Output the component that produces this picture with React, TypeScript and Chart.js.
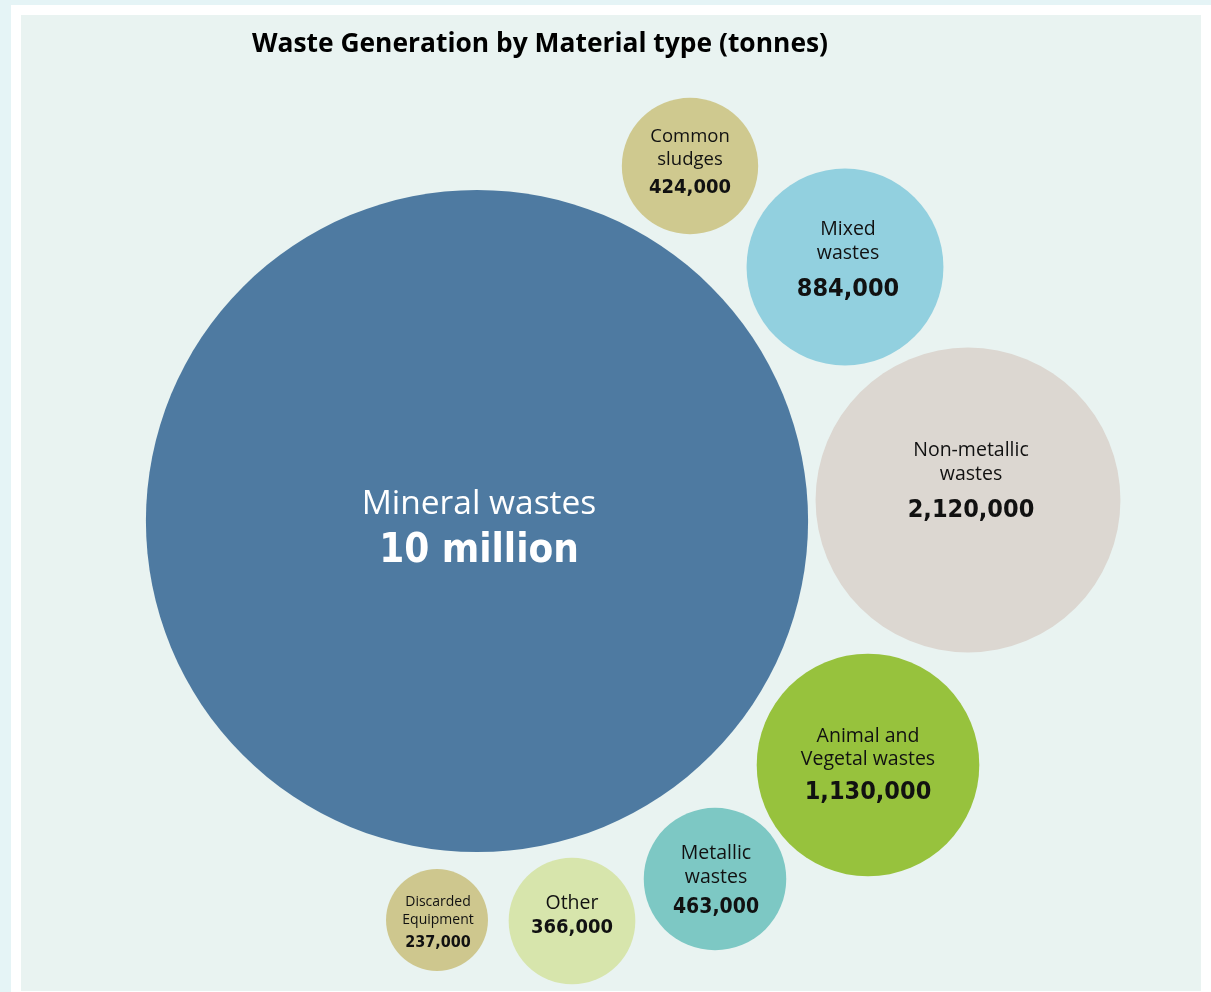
import React, { useEffect, useRef } from "react";
import { Chart, registerables } from "chart.js";

Chart.register(...registerables);

// ---- data ----
const categories: string[][] = [
  ["Mineral wastes"],
  ["Common", "sludges"],
  ["Mixed", "wastes"],
  ["Non-metallic", "wastes"],
  ["Animal and", "Vegetal wastes"],
  ["Metallic", "wastes"],
  ["Other"],
  ["Discarded", "Equipment"],
];
const valueLabels: string[] = [
  "10 million",
  "424,000",
  "884,000",
  "2,120,000",
  "1,130,000",
  "463,000",
  "366,000",
  "237,000",
];
const tonnes: number[] = [10000000, 424000, 884000, 2120000, 1130000, 463000, 366000, 237000];
// bubble layout coordinates (packed-bubble positions)
const layoutX: number[] = [477, 690, 845, 968, 868, 715, 572, 437];
const layoutY: number[] = [521, 166, 267, 500, 765, 879, 921, 920];

const TITLE = "Waste Generation by Material type (tonnes)";

// ---- styles ----
const colors = ["#4e7aa1", "#cfc98f", "#92d0df", "#dcd7d1", "#97c23d", "#7dc8c4", "#d7e5ac", "#cec78e"];
const textColors = ["#ffffff", "#111", "#111", "#111", "#111", "#111", "#111", "#111"];
const textStyle = [
  { ls: 33.5, vs: 40, lg: 0, vg: 48, dx: 2, dy: -17 },
  { ls: 18.5, vs: 20, lg: 23, vg: 28, dx: 0, dy: -29 },
  { ls: 19.5, vs: 25, lg: 24, vg: 36, dx: 3, dy: -38 },
  { ls: 19.5, vs: 25, lg: 24, vg: 36, dx: 3, dy: -50 },
  { ls: 19.5, vs: 25, lg: 23, vg: 33, dx: 0, dy: -29 },
  { ls: 19.5, vs: 21, lg: 24, vg: 31, dx: 1, dy: -26 },
  { ls: 19.5, vs: 20, lg: 0, vg: 25, dx: 0, dy: -18 },
  { ls: 14, vs: 16, lg: 18, vg: 23, dx: 1, dy: -18 },
];
const RADIUS_PER_SQRT_TONNE = 0.1047;
const W = 1211;
const H = 992;
const LABEL_FONT = '"Open Sans", "Noto Sans", sans-serif';
const VALUE_FONT = '"DejaVu Sans Condensed", "DejaVu Sans", sans-serif';

const backgroundPlugin = {
  id: "panelBackground",
  beforeDraw(chart: any) {
    const ctx = chart.ctx;
    ctx.save();
    ctx.fillStyle = "#e5f4f6";
    ctx.fillRect(0, 0, chart.width, chart.height);
    ctx.fillStyle = "#ffffff";
    ctx.fillRect(11, 5, chart.width - 11, chart.height - 5);
    ctx.fillStyle = "#e9f3f1";
    ctx.fillRect(21, 15, 1180, 976);
    ctx.restore();
  },
};

const labelPlugin = {
  id: "bubbleLabels",
  afterDatasetsDraw(chart: any) {
    const ctx = chart.ctx;
    const meta = chart.getDatasetMeta(0);
    ctx.save();
    ctx.textAlign = "center";
    ctx.textBaseline = "middle";
    // title
    ctx.fillStyle = "#000";
    ctx.font = `bold 26.4px ${LABEL_FONT}`;
    ctx.fillText(TITLE, 540, 44);
    meta.data.forEach((el: any, i: number) => {
      const s = textStyle[i];
      const cx = el.x + s.dx;
      let y = el.y + s.dy;
      ctx.fillStyle = textColors[i];
      ctx.font = `${s.ls}px ${LABEL_FONT}`;
      categories[i].forEach((line, j) => {
        if (j > 0) y += s.lg;
        ctx.fillText(line, cx, y);
      });
      y += s.vg;
      ctx.font = `bold ${s.vs}px ${VALUE_FONT}`;
      ctx.fillText(valueLabels[i], cx, y);
    });
    ctx.restore();
  },
};

export default function App() {
  const ref = useRef<HTMLCanvasElement | null>(null);
  useEffect(() => {
    if (!ref.current) return;
    const chart = new Chart(ref.current, {
      type: "bubble",
      data: {
        datasets: [
          {
            data: tonnes.map((v, i) => ({
              x: layoutX[i],
              y: layoutY[i],
              r: RADIUS_PER_SQRT_TONNE * Math.sqrt(v),
            })),
            backgroundColor: colors,
            borderWidth: 0,
            hoverBorderWidth: 0,
          },
        ],
      },
      options: {
        responsive: false,
        animation: false,
        events: [],
        layout: { padding: 0, autoPadding: false },
        clip: false,
        scales: {
          x: { type: "linear", min: 0, max: W, display: false },
          y: { type: "linear", min: 0, max: H, reverse: true, display: false },
        },
        plugins: {
          legend: { display: false },
          tooltip: { enabled: false },
          title: { display: false },
        },
      } as any,
      plugins: [backgroundPlugin, labelPlugin],
    });
    return () => chart.destroy();
  }, []);
  return (
    <div style={{ position: "absolute", left: 0, top: 0, width: W, height: H }}>
      <canvas ref={ref} width={W} height={H} style={{ display: "block" }} />
    </div>
  );
}
